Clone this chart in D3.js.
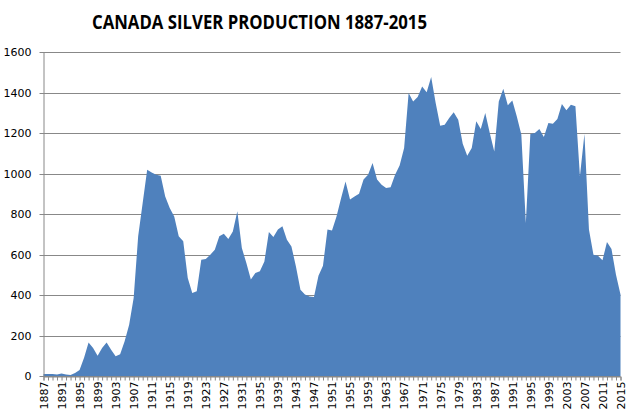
<!DOCTYPE html>
<html>
<head>
<meta charset="utf-8">
<script src="https://cdn.jsdelivr.net/npm/d3@7"></script>
<style>
  body { margin: 0; background: #fff; }
  .axis text { font-family: "DejaVu Sans", Verdana, sans-serif; font-size: 11px; fill: #000; }
</style>
</head>
<body>
<script>
// anni e produzione
var anni = d3.range(1887, 2016);
var produzione = [
  10, 10, 10, 8, 12, 7, 5, 15, 30, 90,
  166, 138, 100, 138, 166, 130, 97, 108, 171, 253,
  385, 690, 854, 1019, 1005, 994, 989, 887, 830, 788,
  690, 665, 484, 410, 418, 574, 578, 599, 624, 690,
  703, 677, 714, 813, 632, 558, 476, 509, 517, 566,
  711, 686, 723, 739, 673, 640, 541, 426, 402, 393,
  390, 495, 545, 723, 719, 788, 876, 961, 871, 887,
  900, 970, 994, 1052, 970, 945, 928, 932, 994, 1039,
  1126, 1397, 1356, 1378, 1430, 1401, 1476, 1348, 1236, 1241,
  1274, 1302, 1266, 1147, 1088, 1126, 1258, 1220, 1299, 1200,
  1109, 1356, 1419, 1337, 1360, 1282, 1192, 756, 1195, 1200,
  1220, 1180, 1249, 1246, 1269, 1343, 1312, 1340, 1332, 986,
  1195, 723, 599, 594, 571, 662, 627, 500, 402
];
var yTicks = [0, 200, 400, 600, 800, 1000, 1200, 1400, 1600];
var titolo = "CANADA SILVER PRODUCTION 1887-2015";

var w = 633;
var h = 419;
var margin = {top: 52, right: 12, bottom: 43, left: 43.5};

var datos = anni.map(function(a, i) { return {anno: a, valore: produzione[i]}; });

var svg = d3.select("body")
            .append("svg")
            .attr("width", w)
            .attr("height", h);

var xScale = d3.scaleLinear()
            .domain([1887, 2015])
            .range([margin.left, w - margin.right - 0.5]);

var yScale = d3.scaleLinear()
            .domain([0, 1600])
            .range([h - margin.bottom, margin.top]);

// griglia
svg.append("g")
    .selectAll("line")
    .data(yTicks)
    .enter()
    .append("line")
    .attr("x1", margin.left - 4)
    .attr("x2", xScale(2015))
    .attr("y1", function(d) { return Math.round(yScale(d)) + 0.5; })
    .attr("y2", function(d) { return Math.round(yScale(d)) + 0.5; })
    .attr("stroke", "#888")
    .attr("stroke-width", 1);

// area
var area = d3.area()
    .x(function(d) { return xScale(d.anno); })
    .y0(yScale(0))
    .y1(function(d) { return yScale(d.valore); });

svg.append("path")
    .datum(datos)
    .attr("d", area)
    .attr("fill", "#4f81bd");

// asse y
var yAxis = d3.axisLeft(yScale)
    .tickValues(yTicks)
    .tickSize(0)
    .tickPadding(12)
    .tickFormat(d3.format("d"));

svg.append("g")
    .attr("class", "axis")
    .attr("transform", "translate(" + margin.left + ",0)")
    .call(yAxis)
    .call(function(g) { g.select(".domain").attr("stroke", "#888"); });

// asse x: tacche ogni anno, etichette ogni 4
var xAxis = d3.axisBottom(xScale)
    .tickValues(anni)
    .tickSize(4)
    .tickFormat(function(d) { return (d - 1887) % 4 === 0 ? d : ""; });

var gx = svg.append("g")
    .attr("class", "axis")
    .attr("transform", "translate(0," + (Math.round(yScale(0)) + 0.5) + ")")
    .call(xAxis);

gx.select(".domain").attr("stroke", "#888");
gx.selectAll(".tick line").attr("stroke", "#888");
gx.selectAll(".tick text")
    .attr("transform", "rotate(-90)")
    .attr("text-anchor", "end")
    .attr("x", -5)
    .attr("y", 0)
    .attr("dy", "0.35em");

// titolo
svg.append("text")
    .attr("x", 92)
    .attr("y", 29)
    .attr("font-family", "'Open Sans', sans-serif")
    .attr("font-weight", "bold")
    .attr("font-size", "20px")
    .attr("textLength", 335)
    .attr("lengthAdjust", "spacingAndGlyphs")
    .text(titolo);
</script>
</body>
</html>
